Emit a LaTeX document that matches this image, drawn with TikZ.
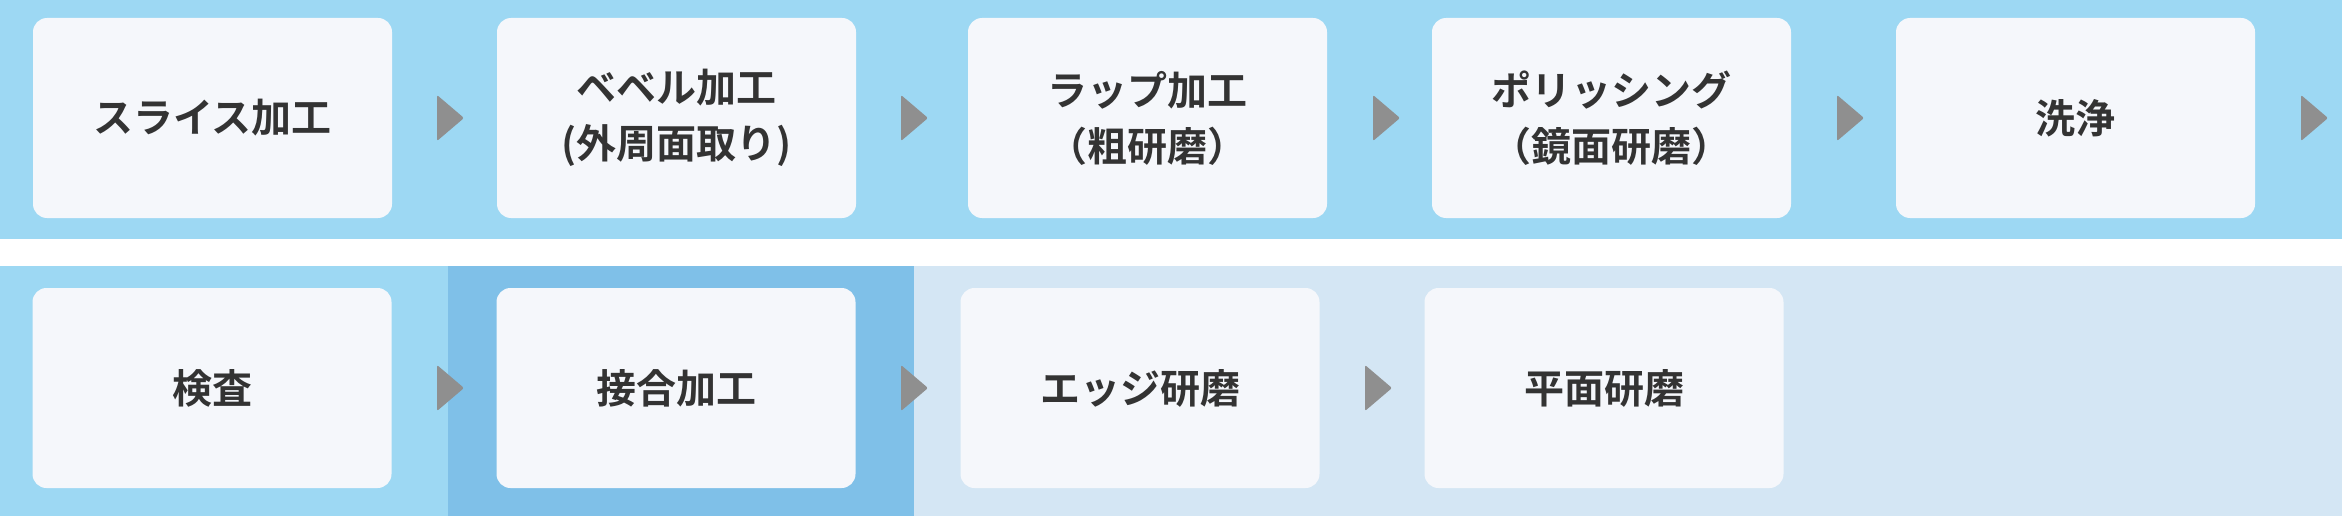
\documentclass[tikz,border=0pt]{standalone}
\usepackage{fontspec}
\setmainfont{Noto Sans CJK JP}[UprightFont=* Bold]
\tikzset{every picture/.style={line width=0.75pt}}
\tikzset{
  stepbox/.style={draw=none, fill={rgb, 255:red, 245; green, 247; blue, 251 }, rounded corners=14pt,
    minimum width=359pt, minimum height=200pt, inner sep=0pt, align=center,
    text={rgb, 255:red, 51; green, 51; blue, 51 }, font=\fontsize{40}{56}\selectfont},
  steptip/.style={fill={rgb, 255:red, 143; green, 143; blue, 143 }, rounded corners=2pt},
}

\begin{document}
\begin{tikzpicture}[x=1pt,y=1pt,yscale=-1,xscale=1]
\useasboundingbox (0,0) rectangle (2342,516);

%Shape: Rectangle [top band]
\fill [color={rgb, 255:red, 157; green, 216; blue, 243 }] (0,0) rectangle (2342,239) ;
%Shape: Rectangle [bottom bands]
\fill [color={rgb, 255:red, 157; green, 216; blue, 243 }] (0,266) rectangle (448,516) ;
\fill [color={rgb, 255:red, 127; green, 192; blue, 232 }] (448,266) rectangle (914,516) ;
\fill [color={rgb, 255:red, 212; green, 230; blue, 244 }] (914,266) rectangle (2342,516) ;

% Text Node
\node [stepbox] (slice) at (212.5,118) {スライス加工};
% Text Node
\node [stepbox] (bevel) at (676.5,118) {ベベル加工\\(外周面取り)};
% Text Node
\node [stepbox] (lap) at (1147.5,118) {ラップ加工\\（粗研磨）};
% Text Node
\node [stepbox] (polish) at (1611.5,118) {ポリッシング\\（鏡面研磨）};
% Text Node
\node [stepbox] (wash) at (2075.5,118) {洗浄};

% Text Node
\node [stepbox] (inspect) at (212,388) {検査};
% Text Node
\node [stepbox] (bond) at (676,388) {接合加工};
% Text Node
\node [stepbox] (edge) at (1140,388) {エッジ研磨};
% Text Node
\node [stepbox] (flat) at (1604,388) {平面研磨};

%Shape: Triangle
\fill [steptip] (437,95) -- (464,118) -- (437,141) -- cycle ;
%Shape: Triangle
\fill [steptip] (901,95) -- (928,118) -- (901,141) -- cycle ;
%Shape: Triangle
\fill [steptip] (1373,95) -- (1400,118) -- (1373,141) -- cycle ;
%Shape: Triangle
\fill [steptip] (1837,95) -- (1864,118) -- (1837,141) -- cycle ;
%Shape: Triangle
\fill [steptip] (2301,95) -- (2328,118) -- (2301,141) -- cycle ;

%Shape: Triangle
\fill [steptip] (437,365) -- (464,388) -- (437,411) -- cycle ;
%Shape: Triangle
\fill [steptip] (901,365) -- (928,388) -- (901,411) -- cycle ;
%Shape: Triangle
\fill [steptip] (1365,365) -- (1392,388) -- (1365,411) -- cycle ;

\end{tikzpicture}
\end{document}
